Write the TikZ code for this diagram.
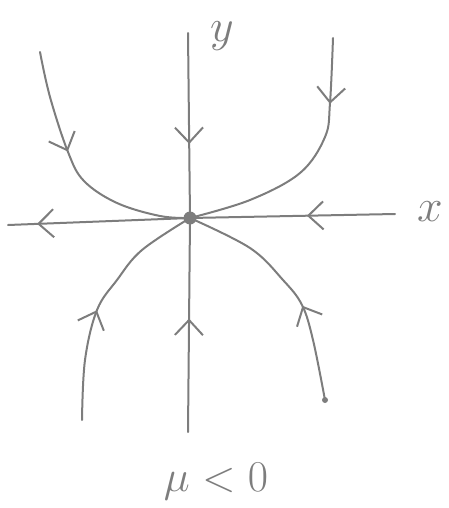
\RequirePackage{fix-cm}
\documentclass[tikz,border=0pt]{standalone}
\usetikzlibrary{arrows.meta,decorations.markings}
\definecolor{pen}{RGB}{125,125,125}
\begin{document}
\begin{tikzpicture}[x=1pt,y=-1pt,
  flow/.style={draw=pen,line width=2pt,line cap=round,line join=round},
  barb/.style={postaction={decorate},decoration={markings,mark=at position #1 with {\arrow[pen]{Straight Barb[length=15pt,width=28pt,line width=2pt]}}}},
  lab/.style={text=pen,inner sep=0pt}]
\useasboundingbox (0,0) rectangle (448,508);
% centre
\node[circle,fill=pen,minimum size=13pt,inner sep=0pt] (O) at (190,218) {};
% axis ends
\coordinate (yt) at (188,33);
\coordinate (yb) at (188,432);
\coordinate (xl) at (8,225);
\coordinate (xr) at (395,214);
% curve points
\coordinate (tl1) at (40,52);  \coordinate (tl2) at (50,97);  \coordinate (tl3) at (68,152);
\coordinate (tl4) at (84,181); \coordinate (tl5) at (117,203); \coordinate (tl6) at (160,216);
\coordinate (tr1) at (333,38); \coordinate (tr2) at (330,103); \coordinate (tr3) at (325,137);
\coordinate (tr4) at (300,173);\coordinate (tr5) at (250,200);
\coordinate (bl1) at (82,420); \coordinate (bl2) at (85,360); \coordinate (bl3) at (97,310);
\coordinate (bl4) at (117,280);\coordinate (bl5) at (142,250);
\coordinate (br1) at (325,400);\coordinate (br2) at (313,340); \coordinate (br3) at (302,305);
\coordinate (br4) at (283,280);\coordinate (br5) at (250,248);
% axes
\draw[flow,barb=0.6] (yt) -- (O.center);
\draw[flow,barb=0.53] (yb) -- (O.center);
\draw[flow,barb=0.84] (O.center) -- (xl);
\draw[flow,barb=0.43] (xr) -- (O.center);
% trajectories
\draw[flow,barb=0.41] plot[smooth,tension=0.6] coordinates {(tl1) (tl2) (tl3) (tl4) (tl5) (tl6) (O.center)};
\draw[flow,barb=0.25] plot[smooth,tension=0.6] coordinates {(tr1) (tr2) (tr3) (tr4) (tr5) (O.center)};
\draw[flow,barb=0.455] plot[smooth,tension=0.6] coordinates {(bl1) (bl2) (bl3) (bl4) (bl5) (O.center)};
\draw[flow,barb=0.4] plot[smooth,tension=0.6] coordinates {(br1) (br2) (br3) (br4) (br5) (O.center)};
\fill[pen] (br1) circle (3pt);
% labels
\node[lab,font=\fontsize{46}{46}\selectfont] (ly) at (222,36) {$y$};
\node[lab,font=\fontsize{46}{46}\selectfont] (lx) at (430,212) {$x$};
\node[lab,font=\fontsize{44}{44}\selectfont] (mu) at (216,482) {$\mu < 0$};
\end{tikzpicture}
\end{document}
